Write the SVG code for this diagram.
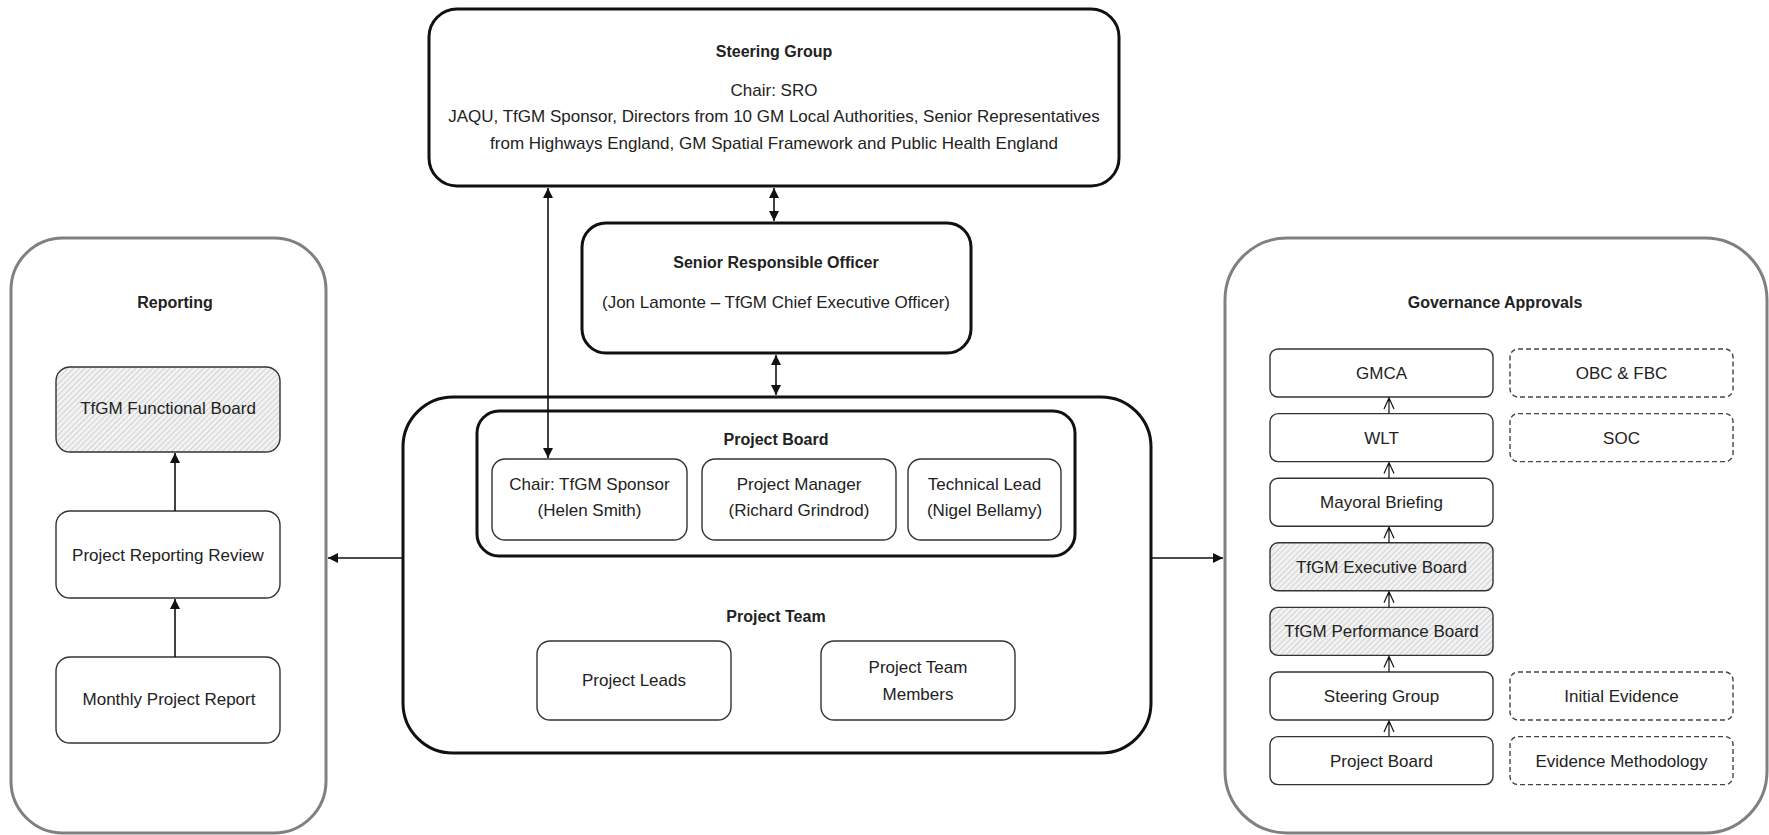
<svg xmlns="http://www.w3.org/2000/svg" width="1769" height="835" viewBox="0 0 1769 835">
<defs>
<style>
text{font-family:"Liberation Sans",Arial,sans-serif;font-size:17px;fill:#222;text-anchor:middle}
.b{font-weight:bold;font-size:16px}
.thick{fill:#fff;stroke:#111;stroke-width:3}
.grey{fill:#fff;stroke:#808080;stroke-width:3}
.thin{fill:#fff;stroke:#333;stroke-width:1.4}
.hatch{fill:url(#hp);stroke:#333;stroke-width:1.4}
.dash{fill:#fff;stroke:#444;stroke-width:1.4;stroke-dasharray:5 3}
.con{stroke:#111;stroke-width:1.6;fill:none}
.open{stroke:#111;stroke-width:1.2;fill:none}
</style>
<pattern id="hp" width="4" height="4" patternUnits="userSpaceOnUse" patternTransform="rotate(45)">
<rect width="4" height="4" fill="#f2f2f2"/>
<line x1="0" y1="0" x2="0" y2="4" stroke="#bdbdbd" stroke-width="1.2"/>
</pattern>
<marker id="ah" viewBox="0 0 10 10" refX="10" refY="5" markerWidth="10" markerHeight="10" markerUnits="userSpaceOnUse" orient="auto-start-reverse">
<path d="M0,0 L10,5 L0,10 z" fill="#111"/>
</marker>
</defs>

<g id="steering-group">
<rect class="thick" x="429" y="9" width="690" height="177" rx="28"/>
<text class="b" x="774" y="57">Steering Group</text>
<text x="774" y="96">Chair: SRO</text>
<text x="774" y="122">JAQU, TfGM Sponsor, Directors from 10 GM Local Authorities, Senior Representatives</text>
<text x="774" y="149">from Highways England, GM Spatial Framework and Public Health England</text>
</g>

<g id="sro">
<rect class="thick" x="582" y="223" width="389" height="130" rx="24"/>
<text class="b" x="776" y="268">Senior Responsible Officer</text>
<text x="776" y="308">(Jon Lamonte – TfGM Chief Executive Officer)</text>
</g>

<g id="project">
<rect class="thick" x="403" y="397" width="748" height="356" rx="50"/>
<rect class="thick" x="477" y="411" width="598" height="145" rx="22"/>
<text class="b" x="776" y="445">Project Board</text>
<text class="b" x="776" y="622">Project Team</text>
</g>
<g id="chair">
<rect class="thin" x="492" y="459" width="195" height="81" rx="13"/>
<text x="589.5" y="490">Chair: TfGM Sponsor</text>
<text x="589.5" y="516">(Helen Smith)</text>
</g>
<g id="project-manager">
<rect class="thin" x="702" y="459" width="194" height="81" rx="13"/>
<text x="799" y="490">Project Manager</text>
<text x="799" y="516">(Richard Grindrod)</text>
</g>
<g id="technical-lead">
<rect class="thin" x="908" y="459" width="153" height="81" rx="13"/>
<text x="984.5" y="490">Technical Lead</text>
<text x="984.5" y="516">(Nigel Bellamy)</text>
</g>
<g id="project-leads">
<rect class="thin" x="537" y="641" width="194" height="79" rx="13"/>
<text x="634" y="686">Project Leads</text>
</g>
<g id="project-team-members">
<rect class="thin" x="821" y="641" width="194" height="79" rx="13"/>
<text x="918" y="673">Project Team</text>
<text x="918" y="700">Members</text>
</g>

<g id="reporting">
<rect class="grey" x="11" y="238" width="315" height="595" rx="52"/>
<text class="b" x="175" y="308">Reporting</text>
</g>
<g id="functional-board">
<rect class="hatch" x="56" y="367" width="224" height="85" rx="14"/>
<text x="168" y="414">TfGM Functional Board</text>
</g>
<g id="reporting-review">
<rect class="thin" x="56" y="511" width="224" height="87" rx="14"/>
<text x="168" y="561">Project Reporting Review</text>
</g>
<g id="monthly-report">
<rect class="thin" x="56" y="657" width="224" height="86" rx="14"/>
<text x="169" y="705">Monthly Project Report</text>
</g>

<g id="governance">
<rect class="grey" x="1225" y="238" width="542" height="595" rx="62"/>
<text class="b" x="1495" y="308">Governance Approvals</text>
</g>
<g id="gmca"><rect class="thin" x="1270" y="349" width="223" height="48" rx="8"/><text x="1381.5" y="379">GMCA</text></g>
<g id="wlt"><rect class="thin" x="1270" y="413.6" width="223" height="48" rx="8"/><text x="1381.5" y="443.6">WLT</text></g>
<g id="mayoral"><rect class="thin" x="1270" y="478.2" width="223" height="48" rx="8"/><text x="1381.5" y="508.2">Mayoral Briefing</text></g>
<g id="exec-board"><rect class="hatch" x="1270" y="542.8" width="223" height="48" rx="8"/><text x="1381.5" y="572.8">TfGM Executive Board</text></g>
<g id="perf-board"><rect class="hatch" x="1270" y="607.4" width="223" height="48" rx="8"/><text x="1381.5" y="637.4">TfGM Performance Board</text></g>
<g id="gov-steering"><rect class="thin" x="1270" y="672" width="223" height="48" rx="8"/><text x="1381.5" y="702">Steering Group</text></g>
<g id="gov-project-board"><rect class="thin" x="1270" y="736.6" width="223" height="48" rx="8"/><text x="1381.5" y="766.6">Project Board</text></g>
<g id="obc-fbc"><rect class="dash" x="1510" y="349" width="223" height="48" rx="8"/><text x="1621.5" y="379">OBC &amp; FBC</text></g>
<g id="soc"><rect class="dash" x="1510" y="413.6" width="223" height="48" rx="8"/><text x="1621.5" y="443.6">SOC</text></g>
<g id="initial-evidence"><rect class="dash" x="1510" y="672" width="223" height="48" rx="8"/><text x="1621.5" y="702">Initial Evidence</text></g>
<g id="evidence-methodology"><rect class="dash" x="1510" y="736.6" width="223" height="48" rx="8"/><text x="1621.5" y="766.6">Evidence Methodology</text></g>

<g id="connectors">
<line class="con" x1="774" y1="188" x2="774" y2="221" marker-start="url(#ah)" marker-end="url(#ah)"/>
<line class="con" x1="776" y1="355" x2="776" y2="395" marker-start="url(#ah)" marker-end="url(#ah)"/>
<line class="con" x1="548" y1="188" x2="548" y2="458" marker-start="url(#ah)" marker-end="url(#ah)"/>
<line class="con" x1="403" y1="558" x2="328" y2="558" marker-end="url(#ah)"/>
<line class="con" x1="1151" y1="558" x2="1223" y2="558" marker-end="url(#ah)"/>
<line class="con" x1="175" y1="511" x2="175" y2="453" marker-end="url(#ah)"/>
<line class="con" x1="175" y1="657" x2="175" y2="599" marker-end="url(#ah)"/>
<path class="open" d="M1389,413.6 V398 M1384,409 L1389,398 L1394,409"/>
<path class="open" d="M1389,478.2 V462.6 M1384,473.6 L1389,462.6 L1394,473.6"/>
<path class="open" d="M1389,542.8 V527.2 M1384,538.2 L1389,527.2 L1394,538.2"/>
<path class="open" d="M1389,607.4 V591.8 M1384,602.8 L1389,591.8 L1394,602.8"/>
<path class="open" d="M1389,672 V656.4 M1384,667.4 L1389,656.4 L1394,667.4"/>
<path class="open" d="M1389,736.6 V721 M1384,732 L1389,721 L1394,732"/>
</g>
</svg>
